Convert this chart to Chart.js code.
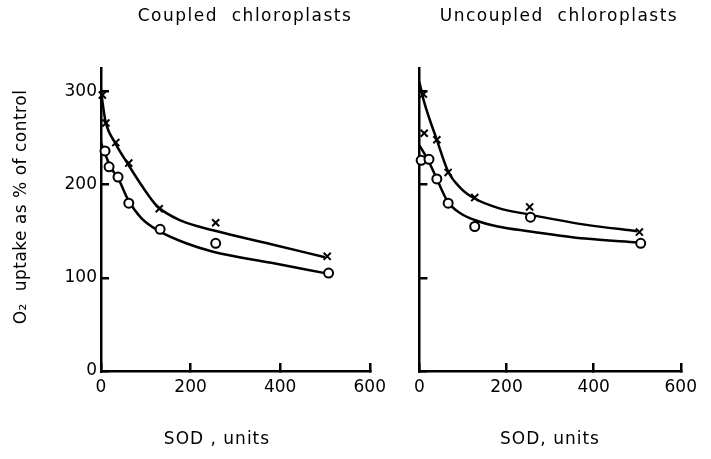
<!DOCTYPE html>
<html>
<head>
<meta charset="utf-8">
<script src="https://cdn.jsdelivr.net/npm/chart.js@4.4.1/dist/chart.umd.min.js"></script>
<style>
  html, body { margin:0; padding:0; background:#fff; }
  body { width:711px; height:459px; position:relative; overflow:hidden; }
  canvas { position:absolute; top:0; }
  #c1 { left:0; }
  #c2 { left:400px; }
</style>
</head>
<body>
<canvas id="c1" width="400" height="459"></canvas>
<canvas id="c2" width="311" height="459"></canvas>
<script>
// ---- tick labels ----
const xTickValues = [0, 200, 400, 600];
const yTickValues = [0, 100, 200, 300];

// ---- Coupled chloroplasts ----
const coupledCrossX  = [3, 11, 33, 62, 130, 256, 505];
const coupledCrossY  = [296, 266, 245, 223, 174, 159, 123];
const coupledCircleX = [9, 18, 38, 62, 132, 256, 508];
const coupledCircleY = [236, 219, 208, 180, 152, 137, 105];
// fitted curves
const coupledCrossFitX  = [0, 10, 30, 60, 95, 125, 180, 250, 380, 500];
const coupledCrossFitY  = [300, 268, 246, 222, 196, 177, 161, 151, 136, 122];
const coupledCircleFitX = [0, 10, 20, 40, 60, 90, 130, 190, 250, 380, 500];
const coupledCircleFitY = [245, 232, 220, 205, 184, 164, 150, 137, 128, 116, 105];

// ---- Uncoupled chloroplasts ----
const uncoupledCrossX  = [9, 11, 40, 66, 127, 253, 505];
const uncoupledCrossY  = [297, 255, 248, 213, 186, 176, 149];
const uncoupledCircleX = [4, 22, 40, 66, 127, 255, 508];
const uncoupledCircleY = [226, 227, 206, 180, 155, 165, 137];
const uncoupledCrossFitX  = [0, 10, 40, 66, 95, 127, 180, 250, 380, 500];
const uncoupledCrossFitY  = [310, 290, 248, 214, 196, 185, 175, 168, 157, 150];
const uncoupledCircleFitX = [0, 20, 40, 66, 95, 127, 180, 250, 380, 500];
const uncoupledCircleFitY = [242, 226, 206, 181, 169, 162, 155, 150, 142, 138];

const FONT = 'DejaVu Sans';
const pts = (xs, ys) => xs.map((x, i) => ({x: x, y: ys[i]}));

const textPlugin = {
  id: 'panelText',
  afterDraw(chart, args, opts) {
    const ctx = chart.ctx;
    (opts.items || []).forEach(it => {
      ctx.save();
      ctx.font = it.font;
      ctx.letterSpacing = it.ls || '0px';
      ctx.fillStyle = '#000';
      ctx.textAlign = 'center';
      ctx.textBaseline = 'middle';
      ctx.translate(it.x, it.y);
      if (it.rot) ctx.rotate(it.rot);
      ctx.fillText(it.text, 0, 0);
      ctx.restore();
    });
  }
};

function datasets(cx, cy, ox, oy, fcx, fcy, fox, foy) {
  const line = (d) => ({
    type: 'line', data: d, borderColor: '#000', borderWidth: 2.5,
    pointRadius: 0, fill: false, cubicInterpolationMode: 'monotone', order: 2, clip: false
  });
  return [
    line(pts(fcx, fcy)),
    line(pts(fox, foy)),
    { type: 'scatter', data: pts(cx, cy), pointStyle: 'crossRot', pointRadius: 5,
      borderColor: '#000', borderWidth: 2, backgroundColor: '#000', order: 0, clip: false },
    { type: 'scatter', data: pts(ox, oy), pointStyle: 'circle', pointRadius: 4.5,
      borderColor: '#000', borderWidth: 2, backgroundColor: '#fff', order: 0, clip: false }
  ];
}

function scales(yWidth, showYLabels) {
  return {
    x: {
      type: 'linear', min: 0, max: 600,
      afterBuildTicks: s => { s.ticks = xTickValues.map(v => ({value: v})); },
      afterFit: s => { s.height = 88; },
      grid: { drawOnChartArea: false, drawTicks: true, tickLength: -8, color: '#000', lineWidth: 2.5 },
      border: { display: true, color: '#000', width: 2.5 },
      ticks: { color: '#000', font: { family: FONT, size: 17 }, padding: 14, maxRotation: 0 }
    },
    y: {
      type: 'linear', min: 0, max: 325,
      afterBuildTicks: s => { s.ticks = yTickValues.map(v => ({value: v})); },
      afterFit: s => { s.width = yWidth; },
      grid: { drawOnChartArea: false, drawTicks: true, tickLength: -8, color: '#000', lineWidth: 2.5 },
      border: { display: true, color: '#000', width: 2.5 },
      ticks: { display: showYLabels, color: '#000', font: { family: FONT, size: 17 }, padding: 12 }
    }
  };
}

function common(items, padRight, yWidth, showY) {
  return {
    responsive: false, animation: false, devicePixelRatio: 1,
    layout: { padding: { top: 68, right: padRight, left: 0, bottom: 0 } },
    plugins: { legend: { display: false }, tooltip: { enabled: false }, title: { display: false },
      panelText: { items: items } },
    scales: scales(yWidth, showY)
  };
}

new Chart(document.getElementById('c1'), {
  type: 'scatter',
  data: { datasets: datasets(coupledCrossX, coupledCrossY, coupledCircleX, coupledCircleY,
    coupledCrossFitX, coupledCrossFitY, coupledCircleFitX, coupledCircleFitY) },
  options: common([
    { text: 'Coupled  chloroplasts', x: 245, y: 17, font: '17px ' + FONT, ls: '1.5px' },
    { text: 'SOD , units', x: 217, y: 440, font: '17px ' + FONT, ls: '1px' },
    { text: 'O\u2082  uptake as % of control', x: 22, y: 207, rot: -Math.PI / 2, font: '17px ' + FONT, ls: '0.5px' }
  ], 27, 101, true),
  plugins: [textPlugin]
});

new Chart(document.getElementById('c2'), {
  type: 'scatter',
  data: { datasets: datasets(uncoupledCrossX, uncoupledCrossY, uncoupledCircleX, uncoupledCircleY,
    uncoupledCrossFitX, uncoupledCrossFitY, uncoupledCircleFitX, uncoupledCircleFitY) },
  options: common([
    { text: 'Uncoupled  chloroplasts', x: 159, y: 17, font: '17px ' + FONT, ls: '1.5px' },
    { text: 'SOD, units', x: 150, y: 440, font: '17px ' + FONT, ls: '1px' }
  ], 21, 17, false),
  plugins: [textPlugin]
});
</script>
</body>
</html>
